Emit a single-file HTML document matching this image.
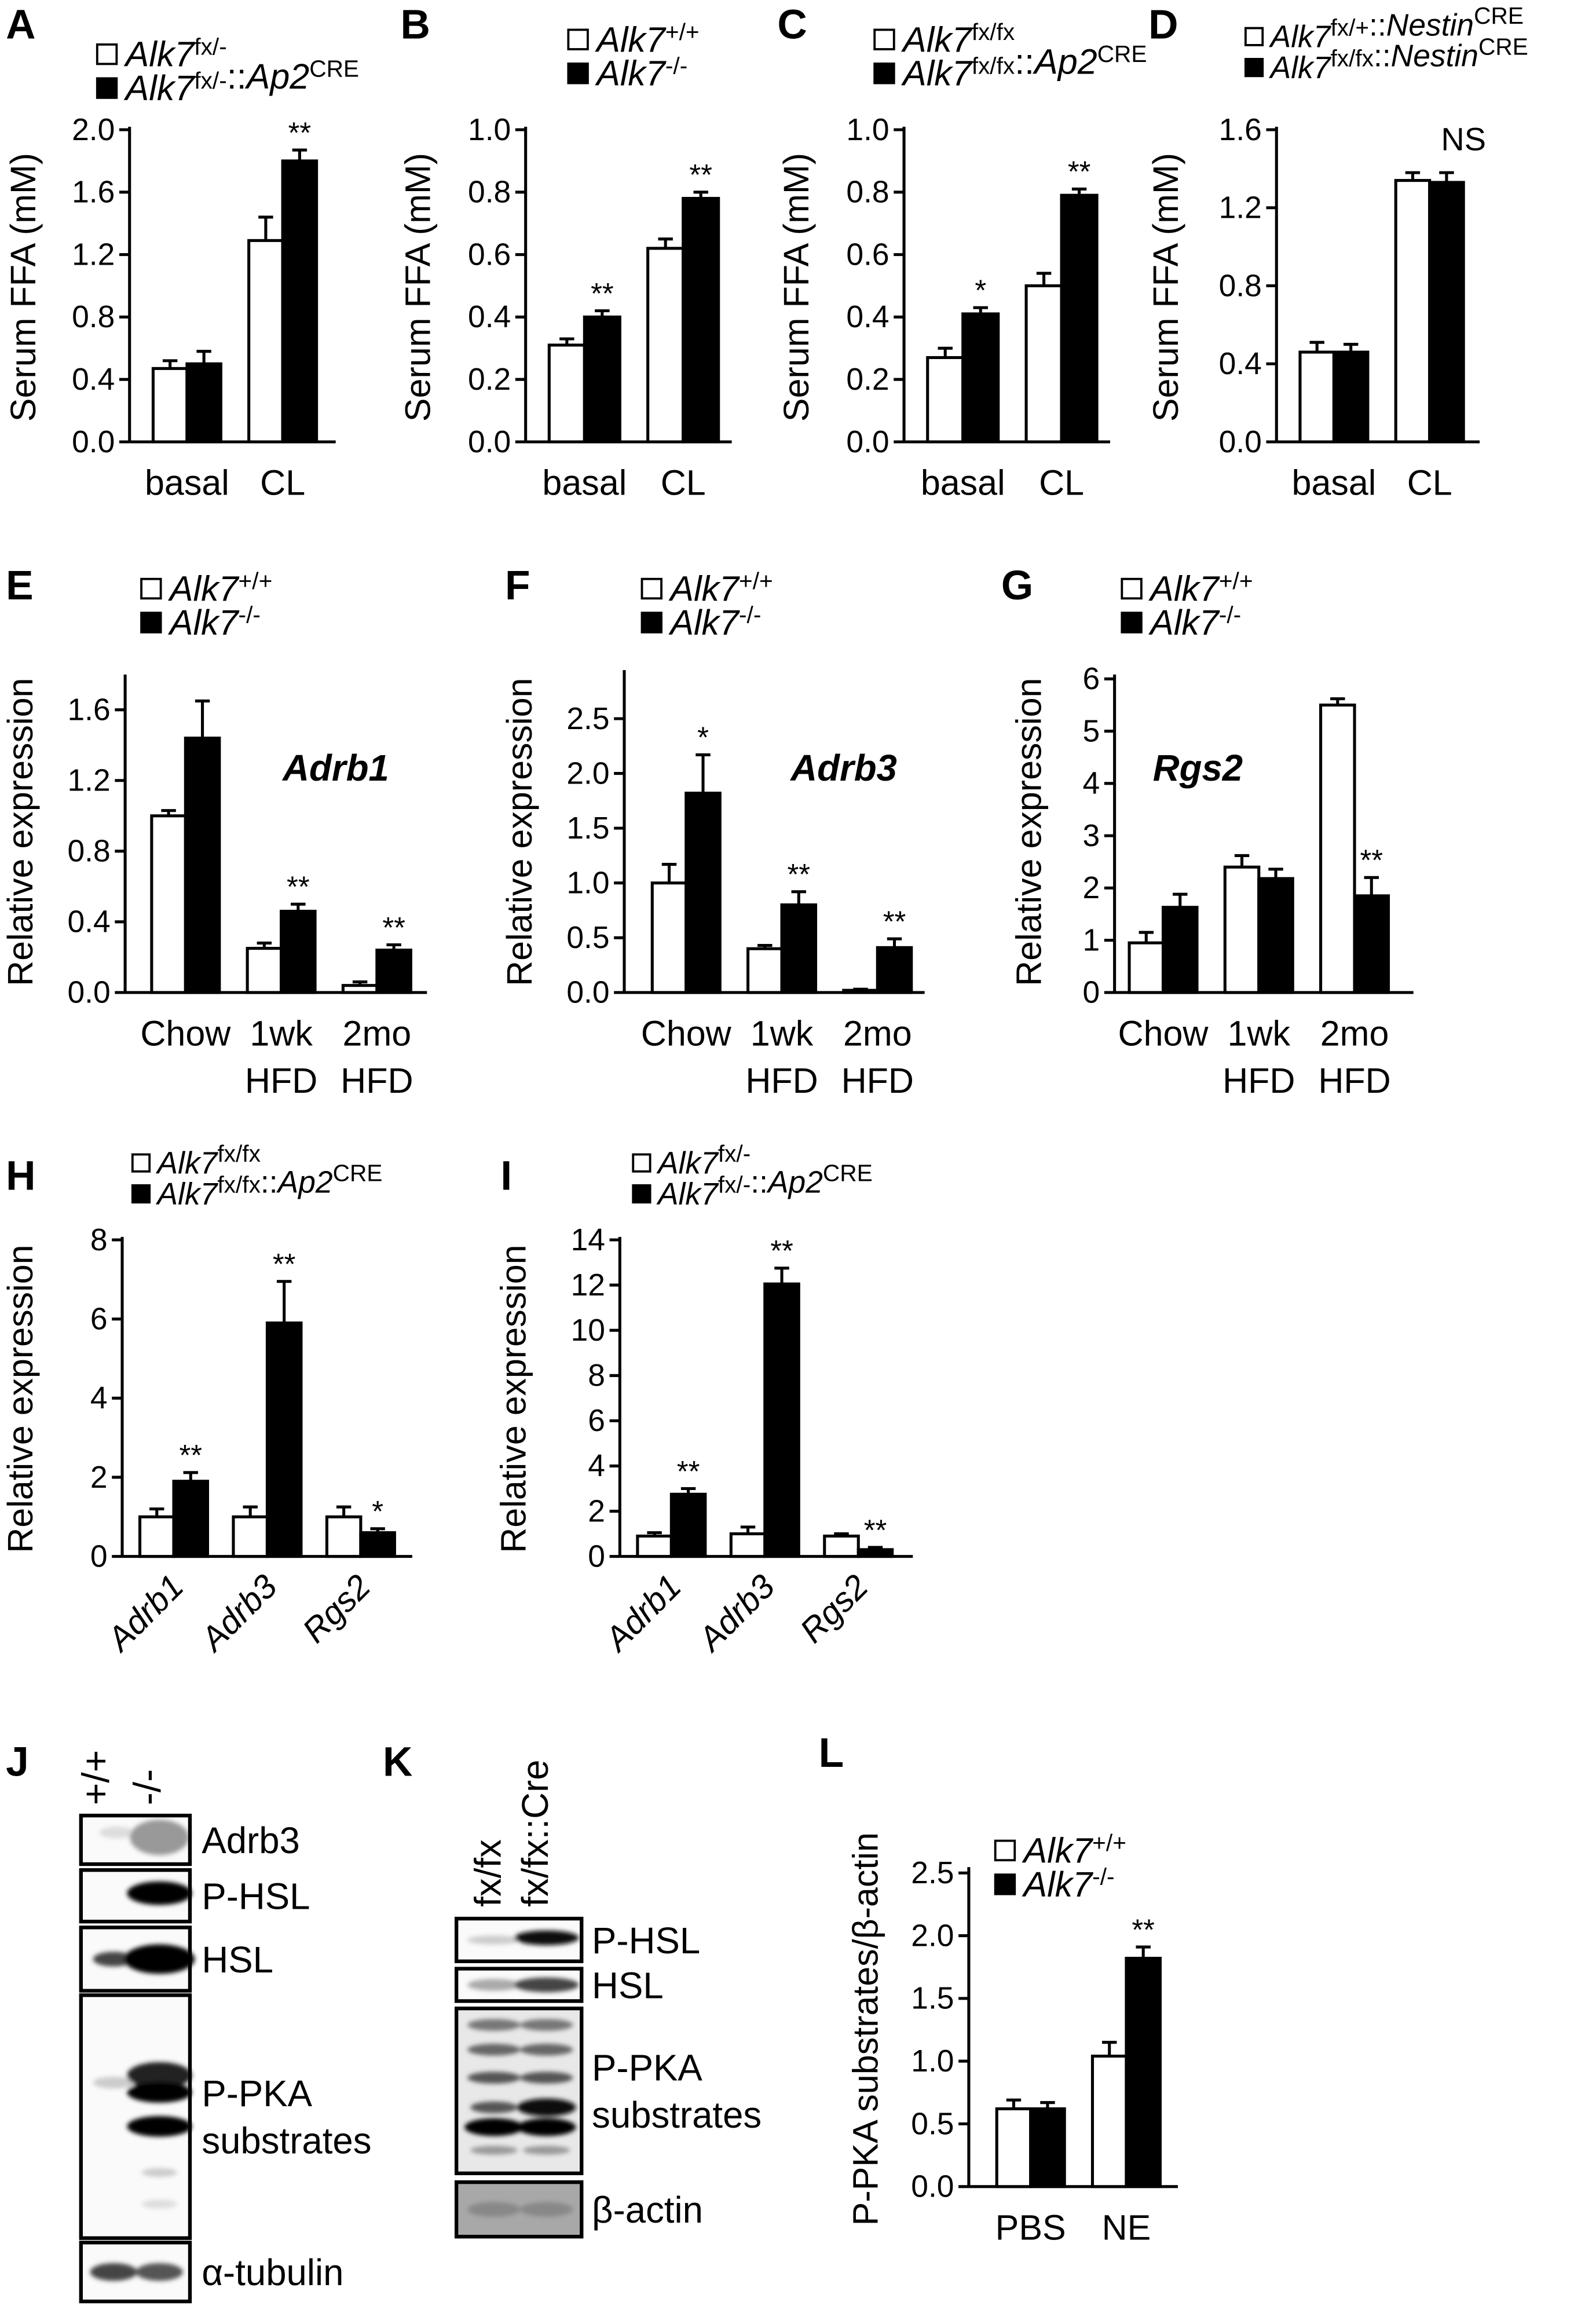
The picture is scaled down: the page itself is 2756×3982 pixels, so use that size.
<!DOCTYPE html>
<html><head><meta charset="utf-8"><style>
html,body{margin:0;padding:0;background:#fff}
svg{display:block}
text{font-family:"Liberation Sans",Arial,sans-serif;fill:#000}
</style></head><body>
<svg id="fig" width="2756" height="3982" viewBox="0 0 1084 1566" xmlns="http://www.w3.org/2000/svg">
<defs><filter id="blur" x="-50%" y="-50%" width="200%" height="200%"><feGaussianBlur stdDeviation="1.6"/></filter></defs>
<g id="root"></g>
</svg>
<script>
// ---- data ----
const catsAD=["basal","CL"];
const aVals=[0.47,0.50,1.29,1.80], aErr=[0.05,0.08,0.15,0.07], aStars=["","","","**"];
const bVals=[0.31,0.40,0.62,0.78], bErr=[0.02,0.02,0.03,0.02], bStars=["","**","","**"];
const cVals=[0.27,0.41,0.50,0.79], cErr=[0.03,0.02,0.04,0.02], cStars=["","*","","**"];
const dVals=[0.46,0.46,1.34,1.33], dErr=[0.05,0.04,0.04,0.05], dStars=["","","",""];
const catsEG=[["Chow"],["1wk","HFD"],["2mo","HFD"]];
const eVals=[1.00,1.44,0.25,0.46,0.04,0.24], eErr=[0.03,0.21,0.03,0.04,0.02,0.03], eStars=["","","","**","","**"];
const fVals=[1.00,1.82,0.40,0.80,0.02,0.41], fErr=[0.17,0.35,0.03,0.12,0.01,0.08], fStars=["","*","","**","","**"];
const gVals=[0.95,1.63,2.40,2.18,5.50,1.85], gErr=[0.20,0.25,0.22,0.18,0.12,0.35], gStars=["","","","","","**"];
const catsHI=["Adrb1","Adrb3","Rgs2"];
const hVals=[1.0,1.9,1.0,5.9,1.0,0.6], hErr=[0.2,0.22,0.25,1.05,0.25,0.1], hStars=["","**","","**","","*"];
const iVals=[0.9,2.75,1.0,12.05,0.9,0.3], iErr=[0.15,0.25,0.3,0.7,0.1,0.1], iStars=["","**","","**","","**"];
const catsL=["PBS","NE"];
const lVals=[0.62,0.62,1.04,1.82], lErr=[0.07,0.05,0.11,0.09], lStars=["","","","**"];
const ticksAB=["0.0","0.4","0.8","1.2","1.6","2.0"];
const ticks01=["0.0","0.2","0.4","0.6","0.8","1.0"];
const ticksD=["0.0","0.4","0.8","1.2","1.6"];
const ticksE=["0.0","0.4","0.8","1.2","1.6"];
const ticksF=["0.0","0.5","1.0","1.5","2.0","2.5"];
const ticksG=["0","1","2","3","4","5","6"];
const ticksH=["0","2","4","6","8"];
const ticksI=["0","2","4","6","8","10","12","14"];
const ticksL=["0.0","0.5","1.0","1.5","2.0","2.5"];

const NS="http://www.w3.org/2000/svg";
const root=document.getElementById('root');
function el(tag,attrs,parent,txt){const e=document.createElementNS(NS,tag);for(const k in attrs)e.setAttribute(k,attrs[k]);if(txt!==undefined)e.textContent=txt;(parent||root).appendChild(e);return e;}

function legend(g,x,y,gap,fs,items){
  items.forEach((it,i)=>{
    const yy=y+i*gap;
    const r=el('rect',{x:x,y:yy-fs*0.62,width:fs*0.55,height:fs*0.55,fill:i?'#000':'#fff',stroke:'#000','stroke-width':1.5},g);
    
    
    const t=el('text',{x:x+fs*0.8,y:yy,'font-size':fs},g);
    
    
    t.innerHTML=it;
  });
}

function chart(c){
  const g=el('g',{});
  
  
  const ys=v=>c.y0-(v/c.tmax)*(c.y0-c.ytm);
  const lt=el('text',{x:c.lx,y:c.ly,'font-size':28,'font-weight':'bold'},g,c.letter);
  
  
  const ax=el('line',{x1:c.ax,y1:c.yTop,x2:c.ax,y2:c.y0,stroke:'#000','stroke-width':2},g);
  
  
  const bx=el('line',{x1:c.ax,y1:c.y0,x2:c.xEnd,y2:c.y0,stroke:'#000','stroke-width':2},g);
  
  
  c.ticks.forEach((tl,i)=>{
    const v=i*c.tmax/(c.ticks.length-1);const y=ys(v);
    el('line',{x1:c.ax-7,y1:y,x2:c.ax,y2:y,stroke:'#000','stroke-width':2},g);
    const t=el('text',{x:c.ax-10,y:y+7,'font-size':21,'text-anchor':'end'},g,tl);
    
    
  });
  const yt=el('text',{x:0,y:0,'font-size':24,'text-anchor':'middle',transform:`translate(${c.tx},${c.tyc}) rotate(-90)`},g,c.ytitle);
  
  
  const bw=c.bw;
  c.vals.forEach((v,i)=>{
    const gi=Math.floor(i/2),k=i%2;
    const x=c.bx0+gi*c.gstep+k*bw;
    const yv=ys(v),ye=ys(v+c.err[i]);
    const cx=x+bw/2;
    el('line',{x1:cx,y1:yv,x2:cx,y2:ye,stroke:'#000','stroke-width':2},g);
    el('line',{x1:cx-5,y1:ye,x2:cx+5,y2:ye,stroke:'#000','stroke-width':2},g);
    const b=el('rect',{x:x,y:yv,width:bw,height:c.y0-yv,fill:k?'#000':'#fff',stroke:'#000','stroke-width':2},g);
    
    
    if(c.stars[i]){
      const s=el('text',{x:cx,y:ye-5,'font-size':20,'text-anchor':'middle'},g,c.stars[i]);
      
      
    }
  });
  c.cats.forEach((cat,gi)=>{
    const cx=c.bx0+gi*c.gstep+bw;
    if(c.rot){
      const t=el('text',{x:0,y:0,'font-size':23,'font-style':'italic','text-anchor':'end',transform:`translate(${cx+8},${c.y0+22}) rotate(-45)`},g,cat);
      
      
    } else {
      const lines=Array.isArray(cat)?cat:[cat];
      lines.forEach((ln,j)=>{
        const t=el('text',{x:cx,y:c.y0+36+j*32,'font-size':24,'text-anchor':'middle'},g,ln);
        
        
      });
    }
  });
  if(c.gene){const t=el('text',{x:c.gene[1],y:c.gene[2],'font-size':25,'font-weight':'bold','font-style':'italic'},g,c.gene[0]);
    }
  if(c.ns){const t=el('text',{x:c.ns[0],y:c.ns[1],'font-size':22,'text-anchor':'middle'},g,'NS');
    }
  legend(g,c.legx,c.legy,c.legGap||23,c.legfs||24,c.leg);
}
const wt='<tspan font-style="italic">Alk7</tspan><tspan font-size="16" dy="-8">+/+</tspan>';
const ko='<tspan font-style="italic">Alk7</tspan><tspan font-size="16" dy="-8">-/-</tspan>';
const sup=(s)=>`<tspan font-size="16" dy="-8">${s}</tspan><tspan dy="8"></tspan>`;
const A7='<tspan font-style="italic">Alk7</tspan>';

chart({name:'panel-a',letter:'A',lx:4,ly:26,ax:88,y0:300,ytm:88,yTop:86,tmax:2.0,xEnd:228,ticks:ticksAB,tx:24,tyc:195,ytitle:'Serum FFA (mM)',
  vals:aVals,err:aErr,stars:aStars,cats:catsAD,bx0:104,gstep:65,bw:23,legx:66,legy:45,leg:[A7+sup('fx/-'),A7+sup('fx/-')+'::<tspan font-style="italic">Ap2</tspan>'+sup('CRE')]});
chart({name:'panel-b',letter:'B',lx:272,ly:26,ax:357,y0:300,ytm:88,yTop:86,tmax:1.0,xEnd:497,ticks:ticks01,tx:292,tyc:195,ytitle:'Serum FFA (mM)',
  vals:bVals,err:bErr,stars:bStars,cats:catsAD,bx0:373,gstep:67,bw:24,legx:386,legy:35,leg:[wt,ko]});
chart({name:'panel-c',letter:'C',lx:528,ly:26,ax:614,y0:300,ytm:88,yTop:86,tmax:1.0,xEnd:754,ticks:ticks01,tx:549,tyc:195,ytitle:'Serum FFA (mM)',
  vals:cVals,err:cErr,stars:cStars,cats:catsAD,bx0:630,gstep:67,bw:24,legx:594,legy:35,leg:[A7+sup('fx/fx'),A7+sup('fx/fx')+'::<tspan font-style="italic">Ap2</tspan>'+sup('CRE')]});
chart({name:'panel-d',letter:'D',lx:780,ly:26,ax:867,y0:300,ytm:88,yTop:86,tmax:1.6,xEnd:1005,ticks:ticksD,tx:800,tyc:195,ytitle:'Serum FFA (mM)',
  vals:dVals,err:dErr,stars:dStars,cats:catsAD,bx0:883,gstep:65,bw:23,ns:[994,102],legx:846,legy:32,legfs:21,legGap:21,
  leg:[A7+sup('fx/+')+'::<tspan font-style="italic">Nestin</tspan>'+sup('CRE'),A7+sup('fx/fx')+'::<tspan font-style="italic">Nestin</tspan>'+sup('CRE')]});
chart({name:'panel-e',letter:'E',lx:4,ly:407,ax:85,y0:674,ytm:482,yTop:458,tmax:1.6,xEnd:290,ticks:ticksE,tx:22,tyc:565,ytitle:'Relative expression',
  vals:eVals,err:eErr,stars:eStars,cats:catsEG,bx0:103,gstep:65,bw:23,gene:['Adrb1',192,530],legx:96,legy:408,leg:[wt,ko]});
chart({name:'panel-f',letter:'F',lx:343,ly:407,ax:424,y0:674,ytm:488,yTop:455,tmax:2.5,xEnd:628,ticks:ticksF,tx:361,tyc:565,ytitle:'Relative expression',
  vals:fVals,err:fErr,stars:fStars,cats:catsEG,bx0:443,gstep:65,bw:23,gene:['Adrb3',537,530],legx:436,legy:408,leg:[wt,ko]});
chart({name:'panel-g',letter:'G',lx:680,ly:407,ax:757,y0:674,ytm:461,yTop:458,tmax:6,xEnd:960,ticks:ticksG,tx:707,tyc:565,ytitle:'Relative expression',
  vals:gVals,err:gErr,stars:gStars,cats:catsEG,bx0:767,gstep:65,bw:23,gene:['Rgs2',783,530],legx:762,legy:408,leg:[wt,ko]});
chart({name:'panel-h',letter:'H',lx:4,ly:808,ax:83,y0:1057,ytm:842,yTop:840,tmax:8,xEnd:280,ticks:ticksH,tx:22,tyc:950,ytitle:'Relative expression',
  vals:hVals,err:hErr,stars:hStars,cats:catsHI,rot:true,bx0:95,gstep:63.5,bw:23,legx:90,legy:797,legGap:21,legfs:21,
  leg:[A7+sup('fx/fx'),A7+sup('fx/fx')+'::<tspan font-style="italic">Ap2</tspan>'+sup('CRE')]});
chart({name:'panel-i',letter:'I',lx:340,ly:808,ax:421,y0:1057,ytm:842,yTop:840,tmax:14,xEnd:620,ticks:ticksI,tx:357,tyc:950,ytitle:'Relative expression',
  vals:iVals,err:iErr,stars:iStars,cats:catsHI,rot:true,bx0:433,gstep:63.5,bw:23,legx:430,legy:797,legGap:21,legfs:21,
  leg:[A7+sup('fx/-'),A7+sup('fx/-')+'::<tspan font-style="italic">Ap2</tspan>'+sup('CRE')]});
chart({name:'panel-l',letter:'L',lx:556,ly:1200,ax:658,y0:1485,ytm:1272,yTop:1268,tmax:2.5,xEnd:800,ticks:ticksL,tx:596,tyc:1378,ytitle:'P-PKA substrates/β-actin',
  vals:lVals,err:lErr,stars:lStars,cats:catsL,bx0:677,gstep:65,bw:23,legx:676,legy:1265,leg:[wt,ko]});

// ---- western blots ----
function blot(name,x,y,w,h,label,lx,bands,bg){
  const g=el('g',{});
  
  
  el('rect',{x:x,y:y,width:w,height:h,fill:bg||'#fafafa',stroke:'none'},g);
  const bg2=el('g',{filter:'url(#blur)'},g);
  bands.forEach(b=>{el('ellipse',{cx:x+b[0]*w,cy:y+b[1]*h,rx:b[2],ry:b[3],fill:b[4]},bg2);});
  el('rect',{x:x,y:y,width:w,height:h,fill:'none',stroke:'#000','stroke-width':2.5},g);
  const lines=label.split('|');
  lines.forEach((ln,i)=>{const t=el('text',{x:lx,y:y+h/2+9-(lines.length-1)*16+i*32,'font-size':25},g,ln);
    });
}
const jl=el('text',{x:4,y:1206,'font-size':28,'font-weight':'bold'},root,'J');

const kl=el('text',{x:260,y:1206,'font-size':28,'font-weight':'bold'},root,'K');

[['+/+',74],['-/-',109]].forEach(a=>{const t=el('text',{x:0,y:0,'font-size':26,transform:`translate(${a[1]},${1226}) rotate(-90)`},root,a[0]);
  });
[['fx/fx',340],['fx/fx::Cre',372]].forEach(a=>{const t=el('text',{x:0,y:0,'font-size':25,transform:`translate(${a[1]},${1295}) rotate(-90)`},root,a[0]);
  });
blot('blot-j-adrb3',55,1233,74,33,'Adrb3',137,[[0.33,0.35,12,4,'#ddd'],[0.72,0.45,20,12,'#999']]);
blot('blot-j-phsl',55,1270,74,35,'P-HSL',137,[[0.72,0.45,22,8,'#000']]);
blot('blot-j-hsl',55,1309,74,43,'HSL',137,[[0.3,0.5,14,5,'#444'],[0.72,0.5,24,10,'#000']]);
blot('blot-j-ppka',55,1355,74,165,'P-PKA|substrates',137,[[0.3,0.36,14,4,'#ccc'],[0.72,0.33,22,9,'#222'],[0.72,0.4,22,7,'#000'],[0.72,0.54,22,7,'#000'],[0.72,0.73,12,3,'#ccc'],[0.72,0.86,12,3,'#ddd']]);
blot('blot-j-tubulin',55,1523,74,40,'α-tubulin',137,[[0.3,0.5,16,6,'#444'],[0.72,0.5,16,6,'#555']]);
blot('blot-k-phsl',310,1303,85,29,'P-HSL',402,[[0.3,0.5,18,3,'#ccc'],[0.72,0.45,22,5,'#111']]);
blot('blot-k-hsl',310,1337,85,22,'HSL',402,[[0.3,0.5,18,4,'#aaa'],[0.72,0.5,22,5,'#444']]);
blot('blot-k-ppka',310,1364,85,112,'P-PKA|substrates',402,[[0.3,0.1,18,4,'#777'],[0.72,0.1,18,4,'#777'],[0.3,0.25,18,4,'#666'],[0.72,0.25,18,4,'#666'],[0.3,0.42,18,4,'#555'],[0.72,0.42,18,4,'#555'],[0.3,0.6,16,4,'#555'],[0.72,0.6,20,6,'#111'],[0.3,0.72,20,6,'#000'],[0.72,0.72,20,6,'#000'],[0.3,0.86,16,3,'#999'],[0.72,0.86,16,3,'#999']],'#e8e8e8');
blot('blot-k-actin',310,1482,85,37,'β-actin',402,[[0.3,0.5,18,5,'#888'],[0.72,0.5,18,5,'#888']],'#a8a8a8');
</script>
</body></html>
